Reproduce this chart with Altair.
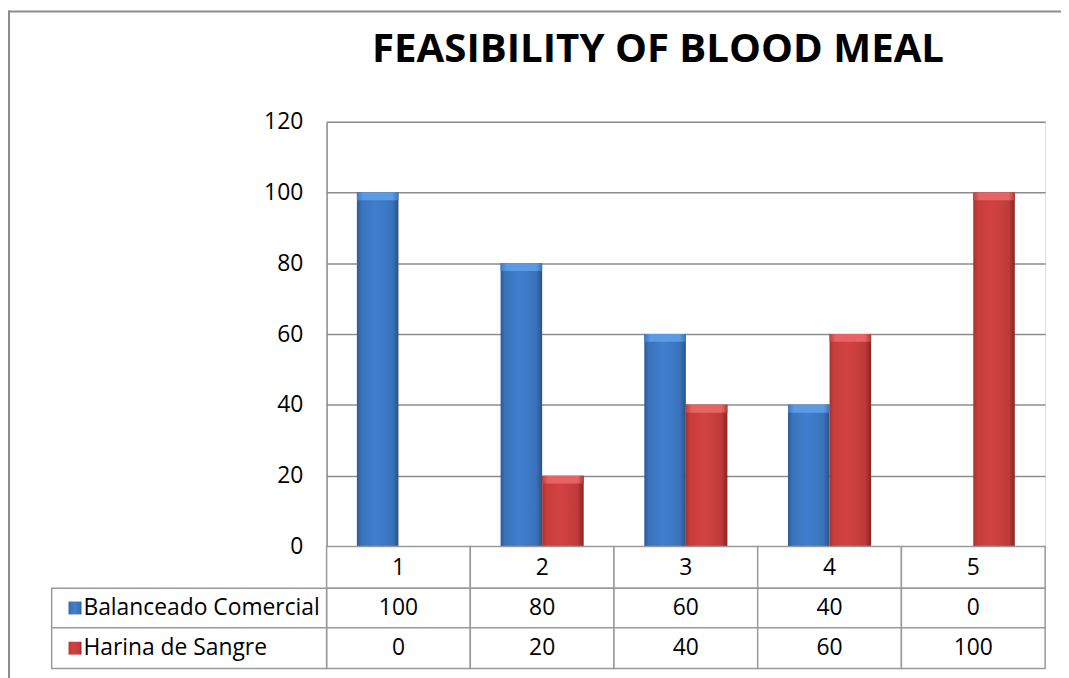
import altair as alt
import pandas as pd

# ---- data ----
categories = ["1", "2", "3", "4", "5"]
series_names = ["Balanceado Comercial", "Harina de Sangre"]
balanceado = [100, 80, 60, 40, 0]
harina = [0, 20, 40, 60, 100]
y_ticks = [0, 20, 40, 60, 80, 100, 120]
title_text = "FEASIBILITY OF BLOOD MEAL"

rows = []
for c, v in zip(categories, balanceado):
    rows.append({"cat": c, "series": series_names[0], "value": v})
for c, v in zip(categories, harina):
    rows.append({"cat": c, "series": series_names[1], "value": v})
df = pd.DataFrame(rows)
cat_df = pd.DataFrame({"cat": categories})
ser_df = pd.DataFrame({"series": series_names})
one = pd.DataFrame({"k": [0]})

# ---- style ----
FONT = "Open Sans"
LINE = "#8c8c8c"
TABLE_LINE = "#9a9a9a"


def grad(stops):
    return alt.Gradient(
        gradient="linear", x1=0, x2=1, y1=0, y2=0,
        stops=[alt.GradientStop(offset=o, color=c) for o, c in stops],
    )


blue_grad = grad([(0, "#2b5893"), (0.1, "#3a72bb"), (0.45, "#3f7fce"),
                  (0.85, "#3a73bc"), (1, "#2a5288")])
red_grad = grad([(0, "#a83030"), (0.1, "#c83c3c"), (0.45, "#d24242"),
                 (0.85, "#c03a3a"), (1, "#8a2424")])
blue_top = grad([(0, "#3f78c0"), (0.15, "#5b9be3"), (0.85, "#5b9be3"), (1, "#3f74b8")])
red_top = grad([(0, "#c04040"), (0.15, "#e86464"), (0.85, "#e86464"), (1, "#b03a3a")])
grads = [blue_grad, red_grad]
tops = [blue_top, red_top]

X = alt.X("cat:N", scale=alt.Scale(domain=categories, paddingInner=0, paddingOuter=0), axis=None)
XO = alt.XOffset("series:N", scale=alt.Scale(domain=series_names, paddingInner=0, paddingOuter=0.73))
Y = alt.Y(
    "value:Q",
    scale=alt.Scale(domain=[0, 120], nice=False),
    axis=alt.Axis(
        values=y_ticks, title=None, grid=True, gridColor=LINE, gridWidth=1.5,
        domain=True, domainColor=LINE, domainWidth=1.5, ticks=False, tickSize=0,
        labelFont=FONT, labelFontSize=23, labelColor="black", labelPadding=24,
    ),
)

layers = []

# bars with a lighter top bevel
for i, s in enumerate(series_names):
    layers.append(
        alt.Chart(df).transform_filter(alt.datum.series == s)
        .mark_bar(color=grads[i])
        .encode(x=X, xOffset=XO, y=Y)
    )
    layers.append(
        alt.Chart(df).transform_filter((alt.datum.series == s) & (alt.datum.value > 0))
        .transform_calculate(bevel="datum.value - 2.2")
        .mark_bar(color=tops[i])
        .encode(x=X, xOffset=XO, y="value:Q", y2="bevel:Q")
    )

# table header row
layers.append(
    alt.Chart(cat_df).mark_rect(fill="white", stroke=TABLE_LINE, strokeWidth=1.5)
    .encode(x=X, y=alt.value(428), y2=alt.value(470))
)
layers.append(
    alt.Chart(cat_df).mark_text(font=FONT, fontSize=23, color="black", baseline="middle")
    .encode(x=X, y=alt.value(450), text="cat:N")
)

row_y = [(470, 510), (510, 551)]
for i, s in enumerate(series_names):
    y0, y1 = row_y[i]
    yc = (y0 + y1) / 2
    layers.append(
        alt.Chart(df).transform_filter(alt.datum.series == s)
        .mark_rect(fill="white", stroke=TABLE_LINE, strokeWidth=1.5)
        .encode(x=X, y=alt.value(y0), y2=alt.value(y1))
    )
    layers.append(
        alt.Chart(ser_df).transform_filter(alt.datum.series == s)
        .mark_rect(fill="white", stroke=TABLE_LINE, strokeWidth=1.5)
        .encode(x=alt.value(-277), x2=alt.value(0), y=alt.value(y0), y2=alt.value(y1))
    )
    layers.append(
        alt.Chart(df).transform_filter(alt.datum.series == s)
        .mark_text(font=FONT, fontSize=23, color="black", baseline="middle")
        .encode(x=X, y=alt.value(yc), text="value:Q")
    )
    layers.append(
        alt.Chart(ser_df).transform_filter(alt.datum.series == s)
        .mark_rect(color=grads[i])
        .encode(x=alt.value(-260), x2=alt.value(-247), y=alt.value(yc - 6.5), y2=alt.value(yc + 6.5))
    )
    layers.append(
        alt.Chart(ser_df).transform_filter(alt.datum.series == s)
        .mark_text(font=FONT, fontSize=23, color="black", baseline="middle", align="left")
        .encode(x=alt.value(-245), y=alt.value(yc), text="series:N")
    )

# title
layers.append(
    alt.Chart(pd.DataFrame({"t": [title_text]}))
    .mark_text(font=FONT, fontSize=40.5, fontWeight="bold", color="black", baseline="middle", align="center")
    .encode(x=alt.value(334), y=alt.value(-72), text="t:N")
)

# outer border
layers.append(
    alt.Chart(one).mark_rule(color=LINE, strokeWidth=2)
    .encode(x=alt.value(-321), x2=alt.value(745), y=alt.value(-111))
)
layers.append(
    alt.Chart(one).mark_rule(color=LINE, strokeWidth=2)
    .encode(x=alt.value(-320), y=alt.value(-112), y2=alt.value(570))
)

chart = (
    alt.layer(*layers)
    .properties(
        width=724, height=428, autosize="none",
        padding={"left": 321, "top": 112, "right": 16, "bottom": 130},
        background="white",
    )
    .configure_view(stroke="transparent")
    .configure(font=FONT)
)

chart.save("out.html", embed_options={"renderer": "svg", "actions": False})
